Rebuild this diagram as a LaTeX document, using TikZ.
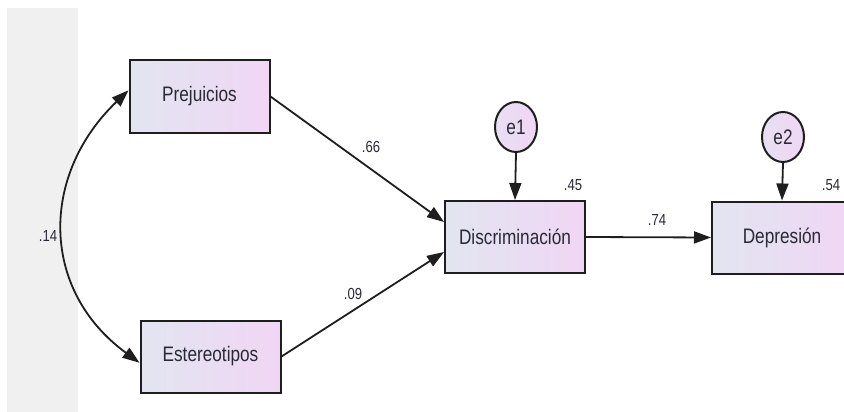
\documentclass[tikz,border=0pt]{standalone}
\usepackage{fontspec}
\usepackage{graphicx}
\setmainfont{Liberation Sans}
\usetikzlibrary{arrows.meta,calc,shapes.geometric}
\definecolor{stripgray}{HTML}{F0F0F0}
\definecolor{boxleft}{HTML}{E2E5F0}
\definecolor{boxright}{HTML}{F0D6F5}
\definecolor{ink}{HTML}{1E1E1E}
\definecolor{txt}{HTML}{2A2A36}
\newcommand{\sqz}[1]{\scalebox{0.82}[1]{#1}}
\newcommand{\boxfont}{\fontsize{21}{25}\selectfont}
\newcommand{\labfont}{\fontsize{16}{19}\selectfont}
\begin{document}
\begin{tikzpicture}[x=1pt,y=-1pt,
  var/.style={draw=ink, line width=2pt, minimum width=140pt, minimum height=72pt,
    left color=boxleft, right color=boxright, inner sep=0pt, font=\boxfont, text=txt},
  err/.style={draw=ink, line width=2pt, ellipse, minimum width=42pt, minimum height=50pt,
    left color=boxleft!60!boxright, right color=boxright, inner sep=0pt, font=\boxfont, text=txt},
  conn/.style={draw=ink, line width=1.8pt, -{Triangle[length=17pt,width=12pt]}},
  dbl/.style={draw=ink, line width=1.8pt, {Triangle[length=17pt,width=12pt]}-{Triangle[length=17pt,width=12pt]}},
  lab/.style={font=\labfont, text=txt, inner sep=0pt}
]
\useasboundingbox (0,0) rectangle (844,412);
\clip (0,0) rectangle (844,412);
\fill[white] (0,0) rectangle (844,412);
\fill[stripgray] (7,8) rectangle (78,412);

\node[var] (prej) at (199.5,96.5) {\sqz{Prejuicios}};
\node[var] (est) at (210.5,356.5) {\sqz{Estereotipos}};
\node[var] (disc) at (515,237) {\sqz{Discriminación}};
\node[var] (dep) at (782,237.5) {\sqz{Depresión}};
\node[err] (e1) at (516,127) {\sqz{e1}};
\node[err] (e2) at (783,137) {\sqz{e2}};

\draw[conn] (prej.east) -- ($(disc.west)+(0,-15)$);
\draw[conn] (est.east) -- ($(disc.west)+(0,15)$);
\draw[conn] (disc.east) -- (dep.west);
\draw[conn] (e1.south) -- (disc.north);
\draw[conn] (e2.south) -- (dep.north);
\draw[dbl] (prej.175) .. controls (40,175) and (40,290) .. (est.185);

\node[lab] (l66) at (371,147) {\sqz{.66}};
\node[lab] (l09) at (353,294) {\sqz{.09}};
\node[lab] (l14) at (48,236) {\sqz{.14}};
\node[lab] (l45) at (573,185) {\sqz{.45}};
\node[lab] (l74) at (657,220) {\sqz{.74}};
\node[lab] (l54) at (831,185) {\sqz{.54}};
\end{tikzpicture}
\end{document}
